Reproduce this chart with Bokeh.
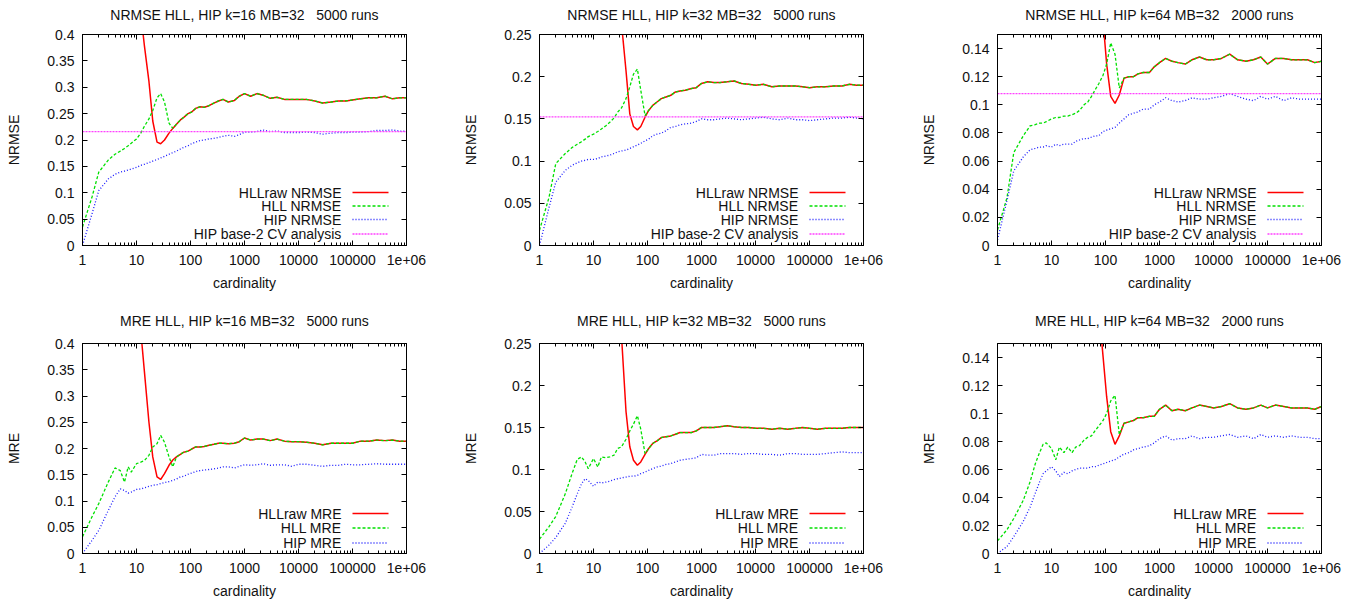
from bokeh.plotting import figure
from bokeh.layouts import column, row
from bokeh.models import FixedTicker, LinearAxis, LogAxis, Label, Range1d, LinearScale
from bokeh.embed import file_html
from bokeh.resources import INLINE

FONT = "Liberation Sans"

# ---------------- data ----------------
CARD = [1, 1.5, 2, 3, 4, 5, 6, 7, 8, 10, 12, 14, 17, 20, 24, 28, 33, 40, 47, 55,
        65, 75, 90, 105, 125, 150, 180, 220, 270, 330, 400, 500, 650, 800, 1000,
        1300, 1700, 2200, 3000, 4000, 5500, 7500, 10000, 14000, 20000, 28000,
        40000, 55000, 75000, 100000, 140000, 200000, 280000, 400000, 550000,
        750000, 1000000]
X_RANGE = (1, 1000000)

X_TICKS = [1, 10, 100, 1000, 10000, 100000, 1000000]
X_TICK_LABELS = ["1", "10", "100", "1000", "10000", "100000", "1e+06"]

Y_TICKS_16 = [0, 0.05, 0.1, 0.15, 0.2, 0.25, 0.3, 0.35, 0.4]
Y_LABELS_16 = ["0", "0.05", "0.1", "0.15", "0.2", "0.25", "0.3", "0.35", "0.4"]
Y_TICKS_32 = [0, 0.05, 0.1, 0.15, 0.2, 0.25]
Y_LABELS_32 = ["0", "0.05", "0.1", "0.15", "0.2", "0.25"]
Y_TICKS_64 = [0, 0.02, 0.04, 0.06, 0.08, 0.1, 0.12, 0.14]
Y_LABELS_64 = ["0", "0.02", "0.04", "0.06", "0.08", "0.1", "0.12", "0.14"]

# NRMSE, k=16
NR16_HLL = [0.035, 0.092, 0.139, 0.162, 0.173, 0.179, 0.184, 0.189, 0.194, 0.202,
            0.213, 0.226, 0.240, 0.256, 0.280, 0.288, 0.272, 0.232, 0.222, 0.230,
            0.238, 0.243, 0.250, 0.253, 0.260, 0.263, 0.262, 0.265, 0.270, 0.274,
            0.277, 0.272, 0.275, 0.283, 0.288, 0.283, 0.288, 0.285, 0.279, 0.281,
            0.277, 0.277, 0.277, 0.277, 0.274, 0.270, 0.272, 0.274, 0.274, 0.276,
            0.278, 0.280, 0.280, 0.283, 0.278, 0.280, 0.280]
NR16_RAW_HEAD = [0.44, 0.379, 0.311, 0.236, 0.196, 0.193, 0.200, 0.213]
NR16_RAW_FROM = 10
NR16_HIP = [0.0, 0.060, 0.104, 0.126, 0.135, 0.139, 0.141, 0.143, 0.145, 0.148,
            0.152, 0.154, 0.157, 0.160, 0.163, 0.166, 0.169, 0.173, 0.176, 0.179,
            0.183, 0.186, 0.189, 0.193, 0.196, 0.199, 0.200, 0.202, 0.203, 0.205,
            0.207, 0.209, 0.207, 0.210, 0.215, 0.215, 0.216, 0.219, 0.216, 0.217,
            0.214, 0.214, 0.214, 0.215, 0.214, 0.211, 0.213, 0.214, 0.214, 0.215,
            0.215, 0.216, 0.218, 0.218, 0.219, 0.217, 0.217]
NR16_CV = 0.216

# NRMSE, k=32
NR32_HLL = [0.018, 0.057, 0.097, 0.109, 0.116, 0.120, 0.123, 0.126, 0.129, 0.132,
            0.135, 0.138, 0.142, 0.146, 0.151, 0.158, 0.163, 0.174, 0.188, 0.203,
            0.209, 0.184, 0.154, 0.160, 0.166, 0.170, 0.174, 0.176, 0.178, 0.182,
            0.183, 0.184, 0.186, 0.187, 0.192, 0.194, 0.193, 0.193, 0.194, 0.195,
            0.192, 0.191, 0.190, 0.191, 0.188, 0.189, 0.189, 0.189, 0.188, 0.187,
            0.188, 0.188, 0.189, 0.189, 0.191, 0.190, 0.190]
NR32_RAW_HEAD = [0.263, 0.207, 0.156, 0.141, 0.137, 0.141, 0.152]
NR32_RAW_FROM = 16
NR32_HIP = [0.0, 0.045, 0.075, 0.089, 0.095, 0.098, 0.100, 0.101, 0.102, 0.102,
            0.103, 0.105, 0.106, 0.107, 0.109, 0.111, 0.112, 0.113, 0.115, 0.117,
            0.119, 0.121, 0.124, 0.126, 0.130, 0.132, 0.133, 0.136, 0.140, 0.141,
            0.143, 0.144, 0.145, 0.147, 0.150, 0.149, 0.149, 0.150, 0.151, 0.150,
            0.149, 0.150, 0.151, 0.152, 0.150, 0.149, 0.151, 0.149, 0.149, 0.148,
            0.149, 0.150, 0.151, 0.151, 0.152, 0.151, 0.150]
NR32_CV = 0.1525

# NRMSE, k=64
NR64_HLL = [0.011, 0.034, 0.066, 0.078, 0.085, 0.086, 0.087, 0.087, 0.088, 0.090,
            0.091, 0.091, 0.092, 0.092, 0.093, 0.094, 0.096, 0.100, 0.102, 0.106,
            0.111, 0.115, 0.121, 0.129, 0.144, 0.136, 0.112, 0.119, 0.120, 0.120,
            0.122, 0.123, 0.123, 0.127, 0.130, 0.133, 0.131, 0.130, 0.129, 0.132,
            0.134, 0.132, 0.132, 0.133, 0.136, 0.132, 0.131, 0.132, 0.134, 0.129,
            0.133, 0.133, 0.132, 0.132, 0.132, 0.130, 0.131]
NR64_RAW_HEAD = [0.160, 0.129, 0.106, 0.101, 0.107]
NR64_RAW_FROM = 22
NR64_HIP = [0.004, 0.032, 0.053, 0.063, 0.068, 0.069, 0.070, 0.070, 0.071, 0.070,
            0.072, 0.071, 0.072, 0.072, 0.072, 0.074, 0.075, 0.076, 0.076, 0.077,
            0.078, 0.078, 0.081, 0.082, 0.083, 0.084, 0.087, 0.090, 0.093, 0.094,
            0.095, 0.097, 0.097, 0.100, 0.102, 0.105, 0.103, 0.102, 0.103, 0.105,
            0.104, 0.104, 0.105, 0.106, 0.108, 0.106, 0.104, 0.103, 0.106, 0.104,
            0.106, 0.103, 0.105, 0.104, 0.104, 0.104, 0.104]
NR64_CV = 0.108

# MRE, k=16
MR16_HLL = [0.032, 0.070, 0.095, 0.136, 0.163, 0.158, 0.136, 0.165, 0.155, 0.171,
            0.174, 0.177, 0.187, 0.203, 0.209, 0.225, 0.212, 0.184, 0.165, 0.184,
            0.189, 0.193, 0.195, 0.199, 0.203, 0.203, 0.204, 0.206, 0.208, 0.210,
            0.210, 0.209, 0.210, 0.213, 0.220, 0.216, 0.218, 0.218, 0.215, 0.218,
            0.214, 0.213, 0.213, 0.212, 0.210, 0.207, 0.210, 0.210, 0.210, 0.210,
            0.214, 0.214, 0.216, 0.215, 0.216, 0.214, 0.214]
MR16_RAW_HEAD = [0.424, 0.347, 0.250, 0.184, 0.146, 0.141, 0.152, 0.168, 0.178]
MR16_RAW_FROM = 10
MR16_HIP = [0.0, 0.025, 0.044, 0.082, 0.108, 0.123, 0.120, 0.115, 0.117, 0.122,
            0.123, 0.125, 0.128, 0.130, 0.131, 0.133, 0.135, 0.137, 0.139, 0.142,
            0.146, 0.147, 0.151, 0.153, 0.156, 0.158, 0.159, 0.160, 0.161, 0.163,
            0.165, 0.165, 0.163, 0.166, 0.169, 0.168, 0.169, 0.171, 0.168, 0.169,
            0.169, 0.166, 0.170, 0.170, 0.168, 0.166, 0.168, 0.168, 0.170, 0.169,
            0.169, 0.170, 0.171, 0.170, 0.170, 0.170, 0.170]

# MRE, k=32
MR32_HLL = [0.017, 0.032, 0.044, 0.071, 0.095, 0.112, 0.115, 0.109, 0.101, 0.113,
            0.103, 0.115, 0.114, 0.115, 0.117, 0.125, 0.127, 0.136, 0.146, 0.154,
            0.164, 0.148, 0.119, 0.125, 0.131, 0.134, 0.138, 0.139, 0.140, 0.142,
            0.144, 0.144, 0.144, 0.146, 0.150, 0.150, 0.150, 0.151, 0.152, 0.151,
            0.150, 0.150, 0.149, 0.149, 0.148, 0.149, 0.148, 0.149, 0.150, 0.149,
            0.148, 0.149, 0.149, 0.149, 0.150, 0.150, 0.150]
MR32_RAW_HEAD = [0.259, 0.169, 0.127, 0.111, 0.105, 0.109, 0.118]
MR32_RAW_FROM = 16
MR32_HIP = [0.0, 0.010, 0.019, 0.036, 0.055, 0.071, 0.083, 0.089, 0.087, 0.080,
            0.085, 0.084, 0.085, 0.086, 0.088, 0.089, 0.090, 0.091, 0.092, 0.092,
            0.093, 0.095, 0.097, 0.099, 0.101, 0.103, 0.104, 0.106, 0.107, 0.109,
            0.111, 0.112, 0.113, 0.114, 0.118, 0.117, 0.117, 0.119, 0.119, 0.119,
            0.118, 0.119, 0.119, 0.118, 0.118, 0.117, 0.119, 0.119, 0.118, 0.118,
            0.118, 0.119, 0.120, 0.121, 0.120, 0.120, 0.120]

# MRE, k=64
MR64_HLL = [0.009, 0.017, 0.025, 0.038, 0.051, 0.064, 0.072, 0.078, 0.079, 0.075,
            0.067, 0.076, 0.072, 0.076, 0.072, 0.076, 0.077, 0.081, 0.083, 0.084,
            0.088, 0.091, 0.095, 0.100, 0.109, 0.113, 0.085, 0.093, 0.094, 0.095,
            0.097, 0.097, 0.098, 0.098, 0.103, 0.106, 0.102, 0.103, 0.102, 0.104,
            0.106, 0.105, 0.104, 0.105, 0.107, 0.104, 0.103, 0.104, 0.106, 0.104,
            0.106, 0.105, 0.104, 0.104, 0.104, 0.103, 0.105]
MR64_RAW_HEAD = [0.175, 0.141, 0.112, 0.087, 0.078, 0.084]
MR64_RAW_FROM = 21
MR64_HIP = [0.0, 0.005, 0.012, 0.023, 0.033, 0.043, 0.051, 0.057, 0.059, 0.062,
            0.059, 0.055, 0.058, 0.057, 0.059, 0.060, 0.061, 0.061, 0.061, 0.062,
            0.062, 0.063, 0.064, 0.065, 0.066, 0.067, 0.069, 0.071, 0.072, 0.074,
            0.075, 0.076, 0.077, 0.079, 0.082, 0.084, 0.081, 0.082, 0.082, 0.084,
            0.082, 0.083, 0.083, 0.084, 0.085, 0.083, 0.084, 0.082, 0.085, 0.083,
            0.084, 0.083, 0.084, 0.083, 0.083, 0.082, 0.082]

# ---------------- styling ----------------
RED, GREEN, BLUE, MAGENTA = "#ff0000", "#00e000", "#1a1aff", "#ff40ff"
DASH_GREEN, DASH_BLUE, DASH_MAG = "3 2", "1 2", "2 1"
W_RED, W_OTHER = 1.5, 1.3
X_MINOR = [m * 10 ** k for k in range(6) for m in range(2, 10)]
FRAME_W = 324


def style_axis(ax, labels=True):
    ax.axis_line_color = "black"
    ax.major_tick_line_color = "black"
    ax.minor_tick_line_color = "black"
    ax.major_tick_in = 5
    ax.major_tick_out = 0
    ax.minor_tick_in = 3
    ax.minor_tick_out = 0
    ax.axis_label_text_font = FONT
    ax.axis_label_text_font_size = "14px"
    ax.axis_label_text_font_style = "normal"
    ax.axis_label_text_color = "#111111"
    if labels:
        ax.major_label_text_font = FONT
        ax.major_label_text_font_size = "14px"
        ax.major_label_text_color = "#111111"
    else:
        ax.major_label_text_font_size = "1px"
        ax.major_label_text_alpha = 0
        ax.major_label_standoff = 0


def panel(title, ylabel, y_max, y_ticks, y_labels, hll, raw_head, raw_from, hip,
          cv, names, rows, borders, frame_h, title_gap):
    bl, br, bt, bb = borders
    p = figure(x_axis_type="log", x_range=Range1d(*X_RANGE), y_range=Range1d(0, y_max),
               frame_width=FRAME_W, frame_height=frame_h,
               min_border_left=bl, min_border_right=br, min_border_top=bt,
               min_border_bottom=bb, output_backend="svg", toolbar_location=None,
               background_fill_color="white", border_fill_color="white")
    p.xgrid.visible = False
    p.ygrid.visible = False
    p.outline_line_color = "black"
    p.outline_line_alpha = 1

    # pixel-like ranges of the frame, used only for the key's sample lines
    p.extra_x_ranges = {"key_x": Range1d(0, FRAME_W)}
    p.extra_y_ranges = {"key_y": Range1d(0, frame_h)}
    p.extra_x_scales = {"key_x": LinearScale()}
    p.extra_y_scales = {"key_y": LinearScale()}

    xt = FixedTicker(ticks=X_TICKS, minor_ticks=X_MINOR)
    yt = FixedTicker(ticks=y_ticks, minor_ticks=[])

    xa = p.below[0]
    xa.ticker = xt
    xa.major_label_overrides = dict(zip(X_TICKS, X_TICK_LABELS))
    xa.axis_label = "cardinality"
    xa.major_label_standoff = 9
    xa.axis_label_standoff = 7
    style_axis(xa)

    ya = p.left[0]
    ya.ticker = yt
    ya.major_label_overrides = dict(zip(y_ticks, y_labels))
    ya.axis_label = ylabel
    ya.major_label_standoff = 8
    ya.axis_label_standoff = 22
    style_axis(ya)

    # mirrored top axis; its label carries the panel title (gnuplot style)
    top = LogAxis(ticker=xt)
    style_axis(top, labels=False)
    top.axis_label = title
    top.axis_label_standoff = title_gap
    p.add_layout(top, "above")
    right = LinearAxis(ticker=yt)
    style_axis(right, labels=False)
    p.add_layout(right, "right")

    raw_x = CARD[raw_from:]
    raw_y = raw_head + hll[raw_from + len(raw_head):]
    p.line(raw_x, raw_y, line_color=RED, line_width=W_RED)
    p.line(CARD, hll, line_color=GREEN, line_width=W_OTHER, line_dash=DASH_GREEN)
    p.line(CARD, hip, line_color=BLUE, line_width=W_OTHER, line_dash=DASH_BLUE)
    styles = [(RED, "solid", W_RED), (GREEN, DASH_GREEN, W_OTHER),
              (BLUE, DASH_BLUE, W_OTHER)]
    if cv is not None:
        p.line(list(X_RANGE), [cv, cv], line_color=MAGENTA, line_width=W_OTHER,
               line_dash=DASH_MAG)
        styles.append((MAGENTA, DASH_MAG, W_OTHER))

    for name, (col, dash, lw), yy in zip(names, styles, rows):
        p.add_layout(Label(x=259, y=yy, x_units="screen", y_units="screen", text=name,
                           text_align="right", text_baseline="middle", text_font=FONT,
                           text_font_size="14px", text_color="#111111"))
        p.line([270, 306], [yy, yy], x_range_name="key_x", y_range_name="key_y",
               line_color=col, line_width=lw, line_dash=dash)
    return p


NR_NAMES = ["HLLraw NRMSE", "HLL NRMSE", "HIP NRMSE", "HIP base-2 CV analysis"]
MR_NAMES = ["HLLraw MRE", "HLL MRE", "HIP MRE"]
NR_ROWS = [53, 39.5, 26, 11.5]
MR_ROWS = [40, 25.5, 10.5]
SP = "\u00a0\u00a0\u00a0"

p1 = panel("NRMSE HLL, HIP k=16 MB=32" + SP + "5000 runs", "NRMSE", 0.4, Y_TICKS_16,
           Y_LABELS_16, NR16_HLL, NR16_RAW_HEAD, NR16_RAW_FROM, NR16_HIP, NR16_CV,
           NR_NAMES, NR_ROWS, (82, 44, 34, 60), 211, 12)
p2 = panel("NRMSE HLL, HIP k=32 MB=32" + SP + "5000 runs", "NRMSE", 0.25, Y_TICKS_32,
           Y_LABELS_32, NR32_HLL, NR32_RAW_HEAD, NR32_RAW_FROM, NR32_HIP, NR32_CV,
           NR_NAMES, NR_ROWS, (89, 45, 34, 60), 211, 12)
p3 = panel("NRMSE HLL, HIP k=64 MB=32" + SP + "2000 runs", "NRMSE", 0.15, Y_TICKS_64,
           Y_LABELS_64, NR64_HLL, NR64_RAW_HEAD, NR64_RAW_FROM, NR64_HIP, NR64_CV,
           NR_NAMES, NR_ROWS, (89, 30, 34, 60), 211, 12)
p4 = panel("MRE HLL, HIP k=16 MB=32" + SP + "5000 runs", "MRE", 0.4, Y_TICKS_16,
           Y_LABELS_16, MR16_HLL, MR16_RAW_HEAD, MR16_RAW_FROM, MR16_HIP, None,
           MR_NAMES, MR_ROWS, (82, 44, 38, 44), 210, 15)
p5 = panel("MRE HLL, HIP k=32 MB=32" + SP + "5000 runs", "MRE", 0.25, Y_TICKS_32,
           Y_LABELS_32, MR32_HLL, MR32_RAW_HEAD, MR32_RAW_FROM, MR32_HIP, None,
           MR_NAMES, MR_ROWS, (89, 45, 38, 44), 210, 15)
p6 = panel("MRE HLL, HIP k=64 MB=32" + SP + "2000 runs", "MRE", 0.15, Y_TICKS_64,
           Y_LABELS_64, MR64_HLL, MR64_RAW_HEAD, MR64_RAW_FROM, MR64_HIP, None,
           MR_NAMES, MR_ROWS, (89, 30, 38, 44), 210, 15)

layout = column(row(p1, p2, p3), row(p4, p5, p6))
open("out.html", "w").write(file_html(layout, INLINE))
